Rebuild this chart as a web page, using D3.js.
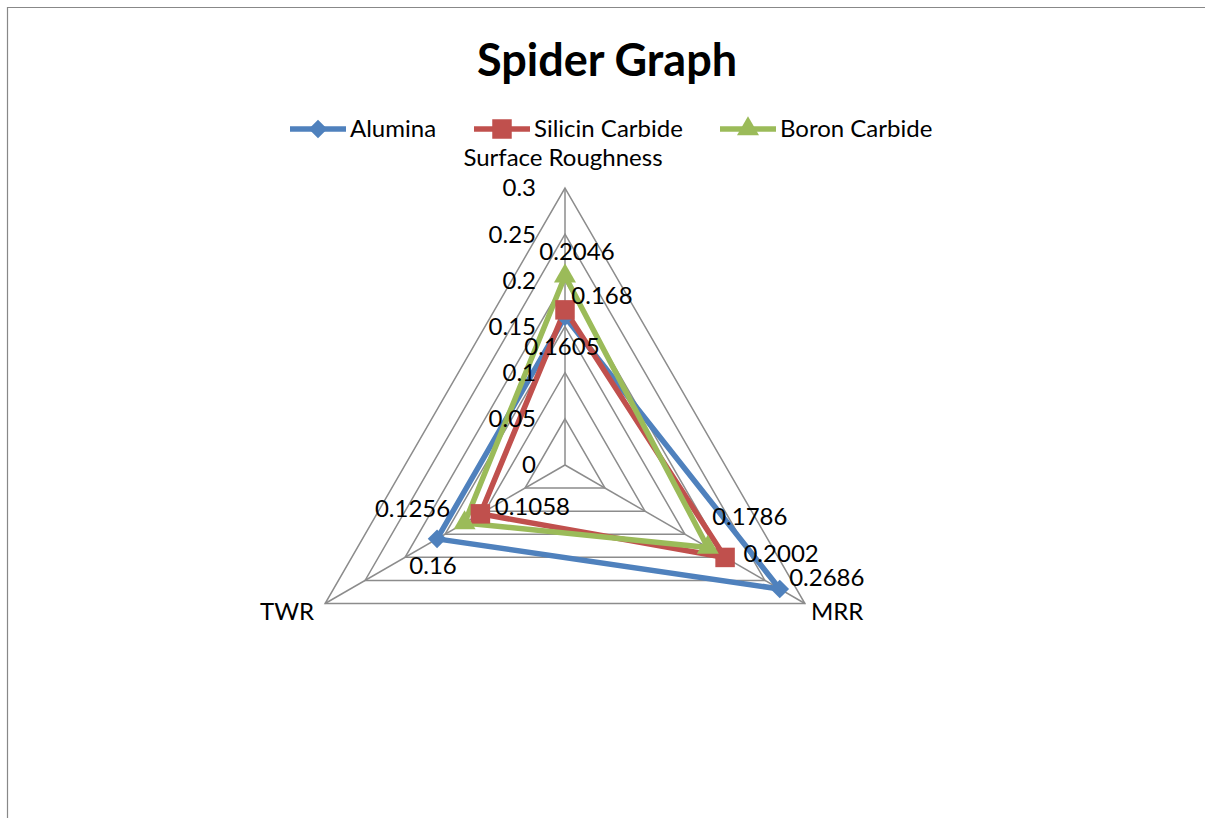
<!DOCTYPE html>
<html><head><meta charset="utf-8">
<script src="https://cdn.jsdelivr.net/npm/d3@7/dist/d3.min.js"></script>
<style>
body{margin:0;background:#fff;}
text{font-family:Lato, "Open Sans", sans-serif;fill:#000;}
</style></head>
<body><svg id="c" width="1205" height="818"></svg>
<script>
const axes = ["Surface Roughness", "MRR", "TWR"];
const seriesNames = ["Alumina", "Silicin Carbide", "Boron Carbide"];
const alumina = [0.1605, 0.2686, 0.16];
const siliconCarbide = [0.168, 0.2002, 0.1058];
const boronCarbide = [0.2046, 0.1786, 0.1256];
const ticks = [0, 0.05, 0.1, 0.15, 0.2, 0.25, 0.3];
const dataLabels = [["0.1605","0.2686","0.16"],["0.168","0.2002","0.1058"],["0.2046","0.1786","0.1256"]];

const colors = ["#4F81BD", "#C0504D", "#9BBB59"];
const markers = [d3.symbolDiamond2 || d3.symbolDiamond, d3.symbolSquare, d3.symbolTriangle];
const markerSizes = [220, 380, 210];
const FS = 24;
// label offsets (dx, dy) relative to points
const labelOffsets = [
  [[-3, 30], [47, -11], [-4, 27]],
  [[37, -14], [56, -4], [52, -7]],
  [[12, -24], [42, -31], [-52, -14]]
];

const svg = d3.select("#c");
svg.append("path").attr("d","M7.5,818 V7.5 H1205").attr("fill","none").attr("stroke","#888").attr("stroke-width",1.2);

const cx = 565, cy = 465, R = 277;
const r = d3.scaleLinear().domain([0, 0.3]).range([0, R]);
const angle = i => -Math.PI/2 + i * 2*Math.PI/axes.length;
const pt = (i, v) => [cx + r(v)*Math.cos(angle(i)), cy + r(v)*Math.sin(angle(i))];

const g = svg.append("g");
// grid
ticks.slice(1).forEach(t => {
  g.append("path").attr("d", d3.line()(axes.map((a,i)=>pt(i,t))) + "Z")
   .attr("fill","none").attr("stroke","#8c8c8c").attr("stroke-width",1.5);
});
axes.forEach((a,i)=>{
  g.append("line").attr("x1",cx).attr("y1",cy).attr("x2",pt(i,0.3)[0]).attr("y2",pt(i,0.3)[1])
   .attr("stroke","#8c8c8c").attr("stroke-width",1.5);
});
// axis labels
g.append("text").attr("x",563).attr("y",pt(0,0.3)[1]-30).attr("dy","0.35em").attr("text-anchor","middle").attr("font-size",FS).text(axes[0]);
g.append("text").attr("x",pt(1,0.3)[0]+6).attr("y",pt(1,0.3)[1]+8).attr("dy","0.35em").attr("text-anchor","start").attr("font-size",FS).text(axes[1]);
g.append("text").attr("x",pt(2,0.3)[0]-11).attr("y",pt(2,0.3)[1]+8).attr("dy","0.35em").attr("text-anchor","end").attr("font-size",FS).text(axes[2]);

const allSeries = [alumina, siliconCarbide, boronCarbide];
allSeries.forEach((vals, s) => {
  const pts = vals.map((v,i)=>pt(i,v));
  g.append("path").attr("d", d3.line()(pts)+"Z").attr("fill","none")
   .attr("stroke",colors[s]).attr("stroke-width",5.5).attr("stroke-linejoin","round");
});
allSeries.forEach((vals, s) => {
  vals.forEach((v,i)=>{
    const p = pt(i,v);
    g.append("path").attr("d", d3.symbol().type(markers[s]).size(markerSizes[s])())
     .attr("transform",`translate(${p[0]},${p[1]})`).attr("fill",colors[s]);
  });
});
// tick labels
ticks.forEach(t => {
  g.append("text").attr("x", cx - 29).attr("y", pt(0,t)[1]).attr("dy","0.35em")
   .attr("text-anchor","end").attr("font-size",FS).text(String(t));
});
allSeries.forEach((vals, s) => {
  vals.forEach((v,i)=>{
    const p = pt(i,v);
    g.append("text").attr("x",p[0]+labelOffsets[s][i][0]).attr("y",p[1]+labelOffsets[s][i][1])
     .attr("dy","0.35em").attr("text-anchor","middle").attr("font-size",FS).text(dataLabels[s][i]);
  });
});

// title
svg.append("text").attr("x",607).attr("y",60).attr("dy","0.35em").attr("text-anchor","middle")
  .attr("font-size",45).attr("font-weight","bold").text("Spider Graph");

// legend
const legX = [290, 474, 720];
seriesNames.forEach((n,s)=>{
  const lg = svg.append("g").attr("transform",`translate(${legX[s]},129)`);
  lg.append("line").attr("x1",0).attr("x2",56).attr("stroke",colors[s]).attr("stroke-width",5.5);
  lg.append("path").attr("d", d3.symbol().type(markers[s]).size(markerSizes[s])()).attr("transform","translate(28,0)").attr("fill",colors[s]);
  lg.append("text").attr("x",60).attr("dy","0.35em").attr("font-size",FS).text(n);
});
</script></body></html>
